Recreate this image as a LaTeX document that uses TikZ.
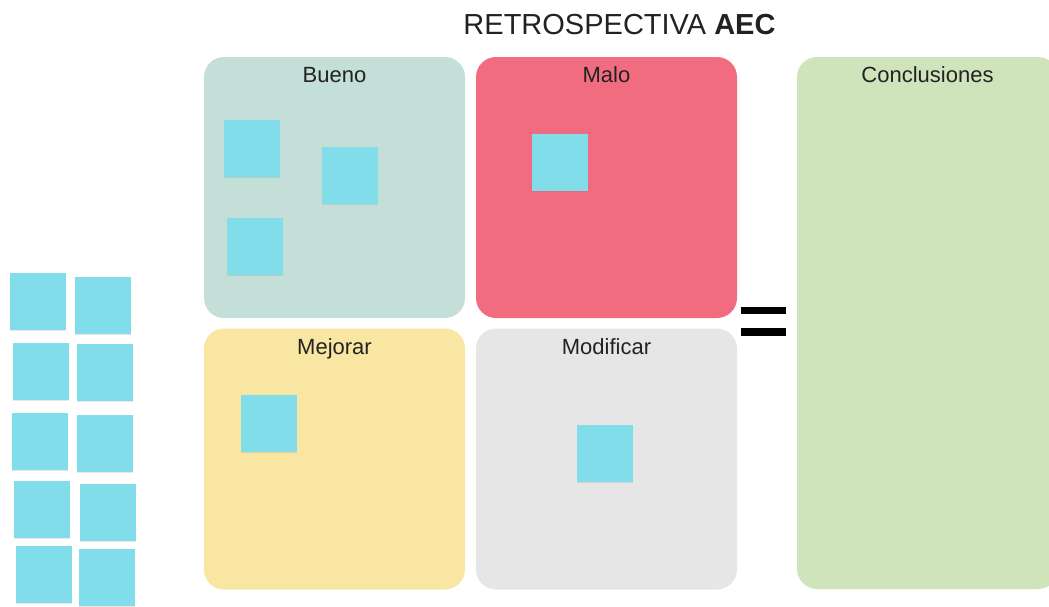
\documentclass[tikz,border=0pt]{standalone}
\usepackage{fontspec}
\setmainfont{Liberation Sans}
\usetikzlibrary{shadows}
\definecolor{buenocol}{HTML}{C4DFD8}
\definecolor{malocol}{HTML}{F16C7F}
\definecolor{mejorarcol}{HTML}{F9E6A2}
\definecolor{modificarcol}{HTML}{E6E6E6}
\definecolor{conclcol}{HTML}{D0E4BC}
\definecolor{notacol}{HTML}{80DDE9}
\definecolor{textocol}{HTML}{222222}
\begin{document}
\begin{tikzpicture}[x=1pt,y=-1pt,
                    area/.style={rounded corners=20pt,minimum width=261pt,minimum height=261pt,inner sep=0pt},
                    etiqueta/.style={anchor=base,text=textocol,font=\fontsize{22}{24}\selectfont},
                    nota/.style={fill=notacol,minimum width=56pt,minimum height=57pt,inner sep=0pt,
                                 drop shadow={opacity=0.18,shadow xshift=0pt,shadow yshift=-1.2pt}}]
             \useasboundingbox (0,0) rectangle (1049,606);
             \node[anchor=base,text=textocol,font=\fontsize{29}{32}\selectfont] (0) at (619.5,34) {RETROSPECTIVA \textbf{AEC}};
             % cuadrantes
             \node[area,fill=buenocol] (1) at (334.5,187.5) {};
             \node[area,fill=malocol] (2) at (606.5,187.5) {};
             \node[area,fill=mejorarcol] (3) at (334.5,459) {};
             \node[area,fill=modificarcol] (4) at (606.5,459) {};
             \node[area,fill=conclcol,minimum height=532pt] (5) at (927.5,323) {};
             \node[etiqueta] (1t) at ([yshift=-26pt]1.north) {Bueno};
             \node[etiqueta] (2t) at ([yshift=-26pt]2.north) {Malo};
             \node[etiqueta] (3t) at ([yshift=-26pt]3.north) {Mejorar};
             \node[etiqueta] (4t) at ([yshift=-26pt]4.north) {Modificar};
             \node[etiqueta] (5t) at ([yshift=-26pt]5.north) {Conclusiones};
             % signo igual
             \fill[black] (741,307) rectangle (786,314);
             \fill[black] (741,328) rectangle (786,336);
             % notas dentro de los cuadrantes
             \node[nota] (n1) at (252,148.5) {};
             \node[nota] (n2) at (350,175) {};
             \node[nota] (n3) at (254.5,246) {};
             \node[nota] (n4) at (560,162) {};
             \node[nota] (n5) at (268.5,423.5) {};
             \node[nota] (n6) at (605,453.5) {};
             % notas sueltas
             \node[nota] (s1) at (37.5,301.5) {};
             \node[nota] (s2) at (103,305) {};
             \node[nota] (s3) at (41,371.5) {};
             \node[nota] (s4) at (105,372) {};
             \node[nota] (s5) at (40,441.5) {};
             \node[nota] (s6) at (105,443) {};
             \node[nota] (s7) at (42,509.5) {};
             \node[nota] (s8) at (108,512) {};
             \node[nota] (s9) at (43.5,574.5) {};
             \node[nota] (s10) at (107,577.5) {};
         \end{tikzpicture}
\end{document}
